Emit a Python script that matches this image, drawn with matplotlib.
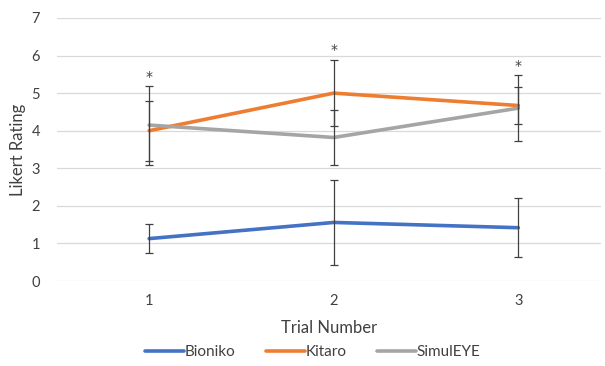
import matplotlib.pyplot as plt
import numpy as np

plt.rcParams['font.family'] = ['Lato', 'DejaVu Sans']

# Data
trials = [1, 2, 3]
trial_labels = ['1', '2', '3']
bioniko = [1.13, 1.56, 1.42]
bioniko_err = [0.38, 1.13, 0.79]
kitaro = [4.0, 5.0, 4.67]
kitaro_err = [0.8, 0.87, 0.5]
simuleye = [4.15, 3.82, 4.6]
simuleye_err = [1.05, 0.74, 0.87]
star_y = [5.56, 6.28, 5.85]

colors = {'Bioniko': '#4472C4', 'Kitaro': '#ED7D31', 'SimulEYE': '#A5A5A5'}

fig = plt.figure(figsize=(6.05, 3.66), dpi=100)
ax = fig.add_axes([0.094, 0.232, 0.90, 0.719])

series = [('Bioniko', bioniko, bioniko_err),
          ('Kitaro', kitaro, kitaro_err),
          ('SimulEYE', simuleye, simuleye_err)]

for name, vals, err in series:
    ax.plot(trials, vals, color=colors[name], lw=2.6, label=name,
            solid_capstyle='round', zorder=2)

for name, vals, err in series:
    ax.errorbar(trials, vals, yerr=err, fmt='none', ecolor='#404040',
                elinewidth=0.9, capsize=3.2, capthick=0.9, zorder=3)

# significance markers
for x, y in zip(trials, star_y):
    ax.text(x, y - 0.12, '*', ha='center', va='center', fontsize=10,
            color='#404040', family='DejaVu Sans')

ax.set_xlim(0.5, 3.45)
ax.set_ylim(0, 7)
ax.set_yticks(range(0, 8))
ax.set_xticks(trials)
ax.set_xticklabels(trial_labels)
ax.grid(axis='y', color='#D9D9D9', lw=0.9)
ax.set_axisbelow(True)
for s in ax.spines.values():
    s.set_visible(False)
ax.tick_params(length=0, labelsize=10.5, colors='#404040')
ax.tick_params(axis='x', pad=9)
ax.tick_params(axis='y', pad=12)

ax.set_xlabel('Trial Number', fontsize=12, color='#404040', labelpad=9)
ax.set_ylabel('Likert Rating', fontsize=12, color='#404040', labelpad=4)

leg = ax.legend(loc='center', bbox_to_anchor=(0.47, -0.27), ncol=3,
                frameon=False, fontsize=11, handlelength=2.55,
                handletextpad=0.05, columnspacing=2.0)
for t in leg.get_texts():
    t.set_color('#404040')

fig.savefig('out.png', dpi=100)
